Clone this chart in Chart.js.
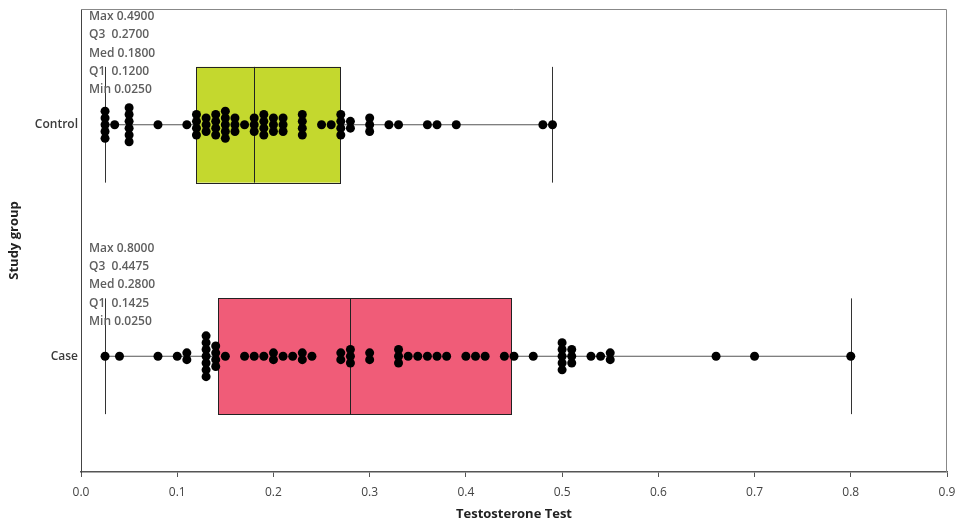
<!DOCTYPE html>
<html>
<head>
<meta charset="utf-8">
<script src="https://cdn.jsdelivr.net/npm/chart.js@4.4.1/dist/chart.umd.min.js"></script>
<style>
  html, body { margin: 0; padding: 0; background: #fff; }
  #wrap { width: 959px; height: 525px; }
</style>
</head>
<body>
<div id="wrap"><canvas id="boxChart" width="959" height="525"></canvas></div>
<script>
// Data
const groups = ['Control', 'Case'];
const groupRows = [3, 1];

// five number summaries: min, q1, median, q3, max
const controlFive = [0.025, 0.12, 0.18, 0.27, 0.49];
const caseFive = [0.025, 0.1425, 0.28, 0.4475, 0.80];

const controlValues = [
  0.025, 0.025, 0.025, 0.025, 0.025, 0.035,
  0.05, 0.05, 0.05, 0.05, 0.05, 0.05, 0.08, 0.11,
  0.12, 0.12, 0.12, 0.12, 0.13, 0.13, 0.13,
  0.14, 0.14, 0.14, 0.14, 0.15, 0.15, 0.15, 0.15, 0.15,
  0.16, 0.16, 0.16, 0.17, 0.18, 0.18, 0.18,
  0.19, 0.19, 0.19, 0.19, 0.20, 0.20, 0.20, 0.21, 0.21, 0.21,
  0.23, 0.23, 0.23, 0.23, 0.25, 0.26, 0.27, 0.27, 0.27, 0.27,
  0.28, 0.28, 0.30, 0.30, 0.30, 0.32, 0.33, 0.36, 0.37, 0.39,
  0.48, 0.49
];

const caseValues = [
  0.025, 0.04, 0.08, 0.10, 0.11, 0.11,
  0.13, 0.13, 0.13, 0.13, 0.13, 0.13, 0.13,
  0.14, 0.14, 0.14, 0.14, 0.15, 0.17, 0.18, 0.19, 0.20, 0.20,
  0.21, 0.22, 0.23, 0.23, 0.24, 0.27, 0.27, 0.28, 0.28, 0.28,
  0.30, 0.30, 0.33, 0.33, 0.33, 0.34, 0.35, 0.36, 0.37, 0.38,
  0.40, 0.41, 0.42, 0.44, 0.45, 0.47,
  0.50, 0.50, 0.50, 0.50, 0.50, 0.51, 0.51, 0.51,
  0.53, 0.54, 0.55, 0.55, 0.66, 0.70, 0.80
];

const xTicks = [0, 0.1, 0.2, 0.3, 0.4, 0.5, 0.6, 0.7, 0.8, 0.9];
const statNames = ['Min', 'Q1 ', 'Med', 'Q3 ', 'Max'];

const boxColors = ['#c4d82e', '#f05c78'];
const DOT_STEP = 6.8;

// stack repeated values into a column: offset index centred on the row
function stackOffsets(values) {
  const counts = {};
  values.forEach(v => { counts[v] = (counts[v] || 0) + 1; });
  const seen = {};
  return values.map(v => {
    const k = seen[v] || 0;
    seen[v] = k + 1;
    return k - (counts[v] - 1) / 2;
  });
}

const controlStack = stackOffsets(controlValues);
const caseStack = stackOffsets(caseValues);

const boxPlugin = {
  id: 'boxPlugin',
  beforeDatasetsDraw(chart) {
    const { ctx, scales: { x, y } } = chart;
    [controlFive, caseFive].forEach((five, i) => {
      const yc = y.getPixelForValue(groupRows[i]);
      const top = y.getPixelForValue(groupRows[i] + 0.5);
      const bot = y.getPixelForValue(groupRows[i] - 0.5);
      const xMin = x.getPixelForValue(five[0]);
      const xQ1 = x.getPixelForValue(five[1]);
      const xMed = x.getPixelForValue(five[2]);
      const xQ3 = x.getPixelForValue(five[3]);
      const xMax = x.getPixelForValue(five[4]);
      ctx.save();
      // whisker line
      ctx.strokeStyle = '#555';
      ctx.lineWidth = 1;
      ctx.beginPath();
      ctx.moveTo(xMin, yc); ctx.lineTo(xQ1, yc);
      ctx.moveTo(xQ3, yc); ctx.lineTo(xMax, yc);
      ctx.stroke();
      // end caps
      ctx.strokeStyle = '#333';
      ctx.beginPath();
      ctx.moveTo(Math.round(xMin) + 0.5, top); ctx.lineTo(Math.round(xMin) + 0.5, bot);
      ctx.moveTo(Math.round(xMax) + 0.5, top); ctx.lineTo(Math.round(xMax) + 0.5, bot);
      ctx.stroke();
      // box
      ctx.fillStyle = boxColors[i];
      ctx.fillRect(xQ1, top, xQ3 - xQ1, bot - top);
      ctx.strokeStyle = '#222';
      ctx.strokeRect(Math.round(xQ1) + 0.5, Math.round(top) + 0.5, Math.round(xQ3 - xQ1), Math.round(bot - top));
      ctx.beginPath();
      ctx.moveTo(Math.round(xMed) + 0.5, top); ctx.lineTo(Math.round(xMed) + 0.5, bot);
      ctx.stroke();
      ctx.restore();
    });

    // stack the dots vertically around their row
    [controlStack, caseStack].forEach((stack, i) => {
      const meta = chart.getDatasetMeta(i);
      const yc = y.getPixelForValue(groupRows[i]);
      meta.data.forEach((pt, j) => { pt.y = yc + stack[j] * DOT_STEP; });
    });
  },
  afterDatasetsDraw(chart) {
    const { ctx, chartArea, scales: { y } } = chart;
    ctx.save();
    ctx.font = '600 12px "Open Sans", sans-serif';
    ctx.fillStyle = '#5e5e5e';
    ctx.textBaseline = 'middle';
    [controlFive, caseFive].forEach((five, i) => {
      const yc = y.getPixelForValue(groupRows[i]);
      for (let k = 4; k >= 0; k--) {
        const line = statNames[k] + ' ' + five[k].toFixed(4);
        ctx.fillText(line, chartArea.left + 8, yc - 108 + (4 - k) * 18.3);
      }
    });
    ctx.restore();
  },
  afterDraw(chart) {
    const { ctx, chartArea: a } = chart;
    ctx.save();
    ctx.strokeStyle = '#888';
    ctx.lineWidth = 1;
    ctx.beginPath();
    ctx.moveTo(a.left, a.top + 0.5);
    ctx.lineTo(a.right - 0.5, a.top + 0.5);
    ctx.lineTo(a.right - 0.5, a.bottom);
    ctx.stroke();
    ctx.restore();
  }
};

new Chart(document.getElementById('boxChart'), {
  type: 'scatter',
  data: {
    datasets: [
      {
        label: 'Control',
        data: controlValues.map(v => ({ x: v, y: groupRows[0] })),
        pointRadius: 4.5,
        pointBackgroundColor: '#000',
        pointBorderWidth: 0
      },
      {
        label: 'Case',
        data: caseValues.map(v => ({ x: v, y: groupRows[1] })),
        pointRadius: 4.5,
        pointBackgroundColor: '#000',
        pointBorderWidth: 0
      }
    ]
  },
  options: {
    responsive: false,
    animation: false,
    layout: { padding: { top: 9, right: 12, left: 0, bottom: 0 } },
    plugins: {
      legend: { display: false },
      tooltip: { enabled: false }
    },
    scales: {
      x: {
        type: 'linear',
        min: 0,
        max: 0.9,
        afterBuildTicks: s => { s.ticks = xTicks.map(v => ({ value: v })); },
        afterFit: s => { s.height = 53; s.paddingLeft = 0; s.paddingRight = 0; },
        ticks: {
          color: '#444',
          font: { family: 'Open Sans', size: 12 },
          padding: 8,
          maxRotation: 0,
          callback: v => v.toFixed(1)
        },
        grid: { drawOnChartArea: false, drawTicks: true, tickLength: 5, color: '#555' },
        border: { display: true, color: '#555', width: 1.5 },
        title: {
          display: true,
          text: 'Testosterone Test',
          color: '#222',
          font: { family: 'Open Sans', size: 13, weight: 'bold' },
          padding: { top: 0, bottom: 3 }
        }
      },
      y: {
        type: 'linear',
        min: 0,
        max: 4,
        afterBuildTicks: s => { s.ticks = groupRows.map(v => ({ value: v })); },
        afterFit: s => { s.width = 81; s.paddingTop = 0; s.paddingBottom = 0; },
        ticks: {
          color: '#3a3a3a',
          font: { family: 'Open Sans', size: 12, weight: '600' },
          padding: 3,
          callback: v => groups[groupRows.indexOf(v)]
        },
        grid: { drawOnChartArea: false, drawTicks: false },
        border: { display: true, color: '#444', width: 1 },
        title: {
          display: true,
          text: 'Study group',
          color: '#222',
          font: { family: 'Open Sans', size: 13, weight: 'bold' },
          padding: { top: 6, bottom: 0 }
        }
      }
    }
  },
  plugins: [boxPlugin]
});
</script>
</body>
</html>
